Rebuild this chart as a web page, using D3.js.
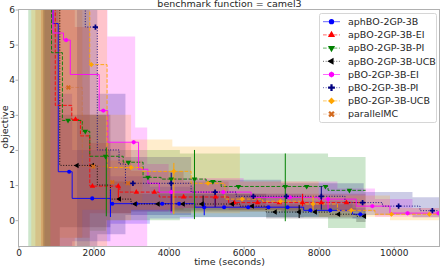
<!DOCTYPE html>
<html>
<head>
<meta charset="utf-8">
<script src="https://cdn.jsdelivr.net/npm/d3@7"></script>
<style>
  body { margin: 0; background: #fff; }
  text { font-family: "DejaVu Sans", sans-serif; fill: #262626; }
</style>
</head>
<body>
<div id="chart"></div>
<script>
// series names, in legend order
const names = ["aphBO-2GP-3B", "apBO-2GP-3B-EI", "apBO-2GP-3B-PI", "apBO-2GP-3B-UCB",
               "pBO-2GP-3B-EI", "pBO-2GP-3B-PI", "pBO-2GP-3B-UCB", "parallelMC"];

// step lines (time in seconds, objective)
const blueT = [690, 820, 920, 1060, 1430, 2450, 4700, 7600, 8900, 9250];
const blueV = [20, 20, 5.6, 1.38, 0.62, 0.47, 0.37, 0.28, 0.17, 0.17];
const redT = [600, 980, 1420, 1650, 1900, 2700, 3750, 5600, 9250];
const redV = [20, 3.27, 2.87, 2.4, 0.97, 0.8, 0.66, 0.5, 0.5];
const greenT = [260, 880, 1170, 1700, 1900, 2790, 3320, 3800, 5000, 5400, 8250, 9250];
const greenV = [20, 4.77, 2.84, 2.53, 1.82, 1.65, 1.22, 1.17, 1.1, 0.96, 0.85, 0.85];
const blackT = [650, 1100, 2100, 2450, 3000, 5900, 6600, 8300, 9000, 9250];
const blackV = [20, 1.56, 1.0, 0.6, 0.46, 0.4, 0.23, 0.17, 0.11, 0.11];
const magentaT = [850, 920, 1200, 1380, 2150, 2380, 3200, 3450, 3750, 6200, 8000, 9000, 9900, 11220];
const magentaV = [20, 5.33, 5.13, 4.15, 3.12, 2.22, 1.45, 1.05, 0.8, 0.65, 0.6, 0.4, 0.2, 0.17];
const navyT = [1560, 1780, 2100, 2680, 2850, 4600, 5800, 8700, 9700, 10700, 11220];
const navyV = [20, 5.5, 2.0, 1.6, 1.05, 0.8, 0.68, 0.5, 0.4, 0.27, 0.27];
const orangeT = [1780, 1900, 2360, 3300, 4600, 5500, 6500, 7500, 8500, 9500, 11220];
const orangeV = [20, 4.43, 1.5, 1.39, 1.05, 0.6, 0.54, 0.46, 0.28, 0.17, 0.17];
const mcT = [450, 1100, 1700, 2400, 2800, 3300];
const mcV = [20, 3.78, 1.53, 1.08, 1.05, 1.05];

// marker times
const blueM = [1350, 1965, 2500, 3140, 3830, 4280, 4950, 5480, 6120, 6660, 7170, 7780, 8310, 9110];
const redM = [1520, 1970, 2660, 3140, 3620, 4400, 5250, 5750, 6370, 6950, 7570, 8070, 8740];
const greenM = [1320, 1780, 2320, 2930, 3450, 4070, 4690, 5180, 5860, 7110, 7680, 8180, 8820];
const blackM = [1560, 1970, 2690, 3110, 3720, 4390, 4890, 5700, 6230, 6840, 7480, 7910, 8530, 9220];
const magentaM = [1270, 2260, 3070, 4070, 5460, 7230, 8250, 9430, 10370, 11190];
const navyM = [2050, 3050, 4070, 5240, 6260, 7140, 8070, 9170, 10130, 11030];
const orangeM = [1940, 3000, 4140, 5050, 5960, 6980, 7850, 8870, 9940, 10950];
const mcM = [1330, 1990, 2500, 2920];

// error bars: time, low, high
const blueErr = [[2450, 0.09, 0.88], [4950, 0.14, 0.5]];
const redErr = [[2660, 0.55, 1.02], [5250, 0.42, 0.85], [7570, 0.4, 0.75]];
const greenErr = [[2340, 0.11, 2.07], [4690, 0.03, 2.0], [7110, -0.03, 1.9]];
const blackErr = [[4920, 0.37, 0.7], [7480, 0.06, 0.43]];
const magentaErr = [[4070, 0.2, 0.9], [8250, 0.3, 0.65]];
const navyErr = [[4070, 0.25, 1.35], [5240, 0.37, 0.85], [8070, 0.3, 0.97]];
const orangeErr = [[4140, 0.17, 1.63], [7850, 0.25, 0.7]];
const mcErr = [];

// confidence bands
const blueBT = [690, 1060, 1430, 2450, 3500, 4700, 7600, 8900, 9250];
const blueLo = [-5, -5, -0.6, -0.1, 0.05, 0.08, 0.1, 0.05, 0.05];
const blueHi = [20, 3.6, 2.0, 1.25, 0.95, 0.75, 0.55, 0.35, 0.35];
const redBT = [600, 1500, 1900, 3000, 4400, 5600, 9250];
const redLo = [-5, -0.5, 0.2, 0.3, 0.35, 0.3, 0.3];
const redHi = [20, 5.5, 2.2, 1.4, 1.1, 0.75, 0.75];
const greenBT = [260, 1170, 1900, 2330, 4300, 8250, 9250];
const greenLo = [-5, -5, -0.3, 0.0, 0.09, -0.22, -0.22];
const greenHi = [20, 20, 3.0, 2.0, 1.9, 1.8, 1.8];
const blackBT = [650, 1100, 2450, 3000, 6600, 9000, 9250];
const blackLo = [-5, -0.2, 0.2, 0.25, 0.05, -0.05, -0.05];
const blackHi = [20, 3.0, 1.1, 0.75, 0.45, 0.3, 0.3];
const magentaBT = [850, 2370, 3110, 3430, 4000, 6000, 8500, 9500, 10500, 11220];
const magentaLo = [-5, -5, -0.8, 0.25, 0.35, 0.35, 0.25, 0.1, 0.08, 0.08];
const magentaHi = [20, 5.23, 2.64, 1.6, 1.2, 1.1, 0.9, 0.6, 0.35, 0.35];
const navyBT = [1560, 2100, 2850, 4600, 7000, 9200, 10500, 11220];
const navyLo = [-5, -0.4, 0.15, 0.3, 0.25, 0.15, 0.08, 0.08];
const navyHi = [20, 3.6, 1.8, 1.15, 1.05, 0.8, 0.65, 0.65];
const orangeBT = [340, 2360, 3000, 4100, 5900, 8000, 9900, 11220];
const orangeLo = [-5, 0.0, 0.3, 0.2, 0.25, 0.1, 0.0, 0.0];
const orangeHi = [20, 3.0, 2.3, 2.1, 1.1, 0.7, 0.35, 0.35];
const mcBT = [450, 1100, 1700, 2400, 3300];
const mcLo = [-5, -0.5, 0.3, 0.5, 0.5];
const mcHi = [20, 8, 3.0, 1.7, 1.7];

const xTicks = [0, 2000, 4000, 6000, 8000, 10000];
const yTicks = [0, 1, 2, 3, 4, 5, 6];

// hexagon marker for the magenta series
const symbolHex = {
  draw(ctx, size) {
    const r = Math.sqrt(size / 2.598);
    for (let i = 0; i < 6; i++) {
      const a = Math.PI / 3 * i - Math.PI / 2;
      if (i === 0) ctx.moveTo(r * Math.cos(a), r * Math.sin(a));
      else ctx.lineTo(r * Math.cos(a), r * Math.sin(a));
    }
    ctx.closePath();
  }
};

const styles = [
  {color: "blue", dash: null, sym: d3.symbolCircle, rot: 0, size: 13},
  {color: "red", dash: "3.7,1.6", sym: d3.symbolTriangle, rot: 0, size: 13},
  {color: "green", dash: "3.7,1.6", sym: d3.symbolTriangle, rot: 180, size: 13},
  {color: "black", dash: "1,1.65", sym: d3.symbolTriangle, rot: -90, size: 13},
  {color: "magenta", dash: null, sym: symbolHex, rot: 0, size: 13},
  {color: "navy", dash: "1,1.65", sym: d3.symbolCross, rot: 0, size: 15},
  {color: "orange", dash: "3.7,1.6", sym: d3.symbolSquare, rot: 45, size: 13},
  {color: "chocolate", dash: "3.7,1.6", sym: d3.symbolCross, rot: 45, size: 15}
];

const zip = (t, v) => t.map((d, i) => ({t: d, v: v[i]}));
const series = [
  [blueT, blueV, blueM, blueErr, blueBT, blueLo, blueHi],
  [redT, redV, redM, redErr, redBT, redLo, redHi],
  [greenT, greenV, greenM, greenErr, greenBT, greenLo, greenHi],
  [blackT, blackV, blackM, blackErr, blackBT, blackLo, blackHi],
  [magentaT, magentaV, magentaM, magentaErr, magentaBT, magentaLo, magentaHi],
  [navyT, navyV, navyM, navyErr, navyBT, navyLo, navyHi],
  [orangeT, orangeV, orangeM, orangeErr, orangeBT, orangeLo, orangeHi],
  [mcT, mcV, mcM, mcErr, mcBT, mcLo, mcHi]
].map((s, i) => {
  const pts = zip(s[0], s[1]);
  const stepAt = tm => { let v = pts[0].v; pts.forEach(p => { if (p.t <= tm) v = p.v; }); return v; };
  return {
    name: names[i], style: styles[i], pts: pts,
    marks: s[2].map(tm => ({t: tm, v: stepAt(tm)})),
    errs: s[3],
    band: s[4].map((tb, j) => ({t: tb, lo: s[5][j], hi: s[6][j]}))
  };
});

const width = 441, height = 268;
const margin = {top: 9.5, right: 1.5, bottom: 21.5, left: 18.5};

const x = d3.scaleLinear().domain([0, 11220]).range([margin.left, width - margin.right]);
const y = d3.scaleLinear().domain([-0.75, 6]).range([height - margin.bottom, margin.top]);

const svg = d3.select("#chart").append("svg")
    .attr("width", width)
    .attr("height", height);

svg.append("defs").append("clipPath").attr("id", "plot")
  .append("rect")
    .attr("x", margin.left).attr("y", margin.top)
    .attr("width", width - margin.left - margin.right)
    .attr("height", height - margin.top - margin.bottom);

const plot = svg.append("g").attr("clip-path", "url(#plot)");

const area = d3.area()
    .x(d => x(d.t)).y0(d => y(d.lo)).y1(d => y(d.hi))
    .curve(d3.curveStepAfter);
const line = d3.line()
    .x(d => x(d.t)).y(d => y(d.v))
    .curve(d3.curveStepAfter);

// bands
plot.selectAll(".band")
    .data(series)
  .enter().append("path")
    .attr("class", "band")
    .attr("d", d => area(d.band))
    .attr("fill", d => d.style.color)
    .attr("fill-opacity", 0.2);

// lines
plot.selectAll(".line")
    .data(series)
  .enter().append("path")
    .attr("class", "line")
    .attr("d", d => line(d.pts))
    .attr("fill", "none")
    .attr("stroke", d => d.style.color)
    .attr("stroke-width", 1)
    .attr("stroke-opacity", d => d.name === "parallelMC" ? 0.35 : 0.9)
    .attr("stroke-dasharray", d => d.style.dash);

// error bars
series.forEach(s => {
  plot.selectAll(null)
      .data(s.errs)
    .enter().append("line")
      .attr("x1", d => x(d[0])).attr("x2", d => x(d[0]))
      .attr("y1", d => y(d[1])).attr("y2", d => y(d[2]))
      .attr("stroke", s.style.color)
      .attr("stroke-width", 1);
});

// markers
series.forEach(s => {
  const sym = d3.symbol().type(s.style.sym).size(s.style.size);
  plot.selectAll(null)
      .data(s.marks)
    .enter().append("path")
      .attr("d", sym)
      .attr("transform", d => "translate(" + x(d.t) + "," + y(d.v) + ") rotate(" + s.style.rot + ")")
      .attr("fill", s.style.color);
});

// frame
svg.append("rect")
    .attr("x", margin.left).attr("y", margin.top)
    .attr("width", width - margin.left - margin.right)
    .attr("height", height - margin.top - margin.bottom)
    .attr("fill", "none")
    .attr("stroke", "#b0b0b0")
    .attr("stroke-width", 1);

// axes
const xAxis = svg.append("g")
    .attr("transform", "translate(0," + (height - margin.bottom) + ")")
    .call(d3.axisBottom(x).tickValues(xTicks).tickFormat(d3.format("d")).tickSize(3).tickPadding(0.5));
const yAxis = svg.append("g")
    .attr("transform", "translate(" + margin.left + ",0)")
    .call(d3.axisLeft(y).tickValues(yTicks).tickFormat(d3.format("d")).tickSize(3).tickPadding(0.5));
[xAxis, yAxis].forEach(g => {
  g.select(".domain").remove();
  g.selectAll(".tick line").attr("stroke", "#b0b0b0");
  g.selectAll(".tick text").attr("font-size", 9).attr("font-family", "DejaVu Sans").attr("fill", "#262626");
});

svg.append("text")
    .attr("x", 229.5).attr("y", 7)
    .attr("text-anchor", "middle")
    .attr("font-size", 9.5)
    .text("benchmark function = camel3");

svg.append("text")
    .attr("x", 229.5).attr("y", 264.5)
    .attr("text-anchor", "middle")
    .attr("font-size", 9.5)
    .text("time (seconds)");

svg.append("text")
    .attr("transform", "translate(7.5," + y(2.65) + ") rotate(-90)")
    .attr("text-anchor", "middle")
    .attr("font-size", 9.5)
    .text("objective");

// legend
const legend = svg.append("g");
legend.append("rect")
    .attr("x", 319.5).attr("y", 13.5)
    .attr("width", 117).attr("height", 109)
    .attr("rx", 2)
    .attr("fill", "white").attr("fill-opacity", 0.85)
    .attr("stroke", "#d6d6d6");

const item = legend.selectAll(".item")
    .data(series)
  .enter().append("g")
    .attr("transform", (d, i) => "translate(0," + (21.7 + i * 13.2) + ")");
item.append("line")
    .attr("x1", 323).attr("x2", 340)
    .attr("stroke", d => d.style.color)
    .attr("stroke-opacity", d => d.name === "parallelMC" ? 0.3 : 0.6)
    .attr("stroke-dasharray", d => d.style.dash);
item.append("path")
    .attr("d", d => d3.symbol().type(d.style.sym).size(d.style.size * 1.7)())
    .attr("transform", d => "translate(331.5,0) rotate(" + d.style.rot + ")")
    .attr("fill", d => d.style.color);
item.append("text")
    .attr("x", 348).attr("dy", "0.35em")
    .attr("font-size", 9.5)
    .text(d => d.name);
</script>
</body>
</html>
